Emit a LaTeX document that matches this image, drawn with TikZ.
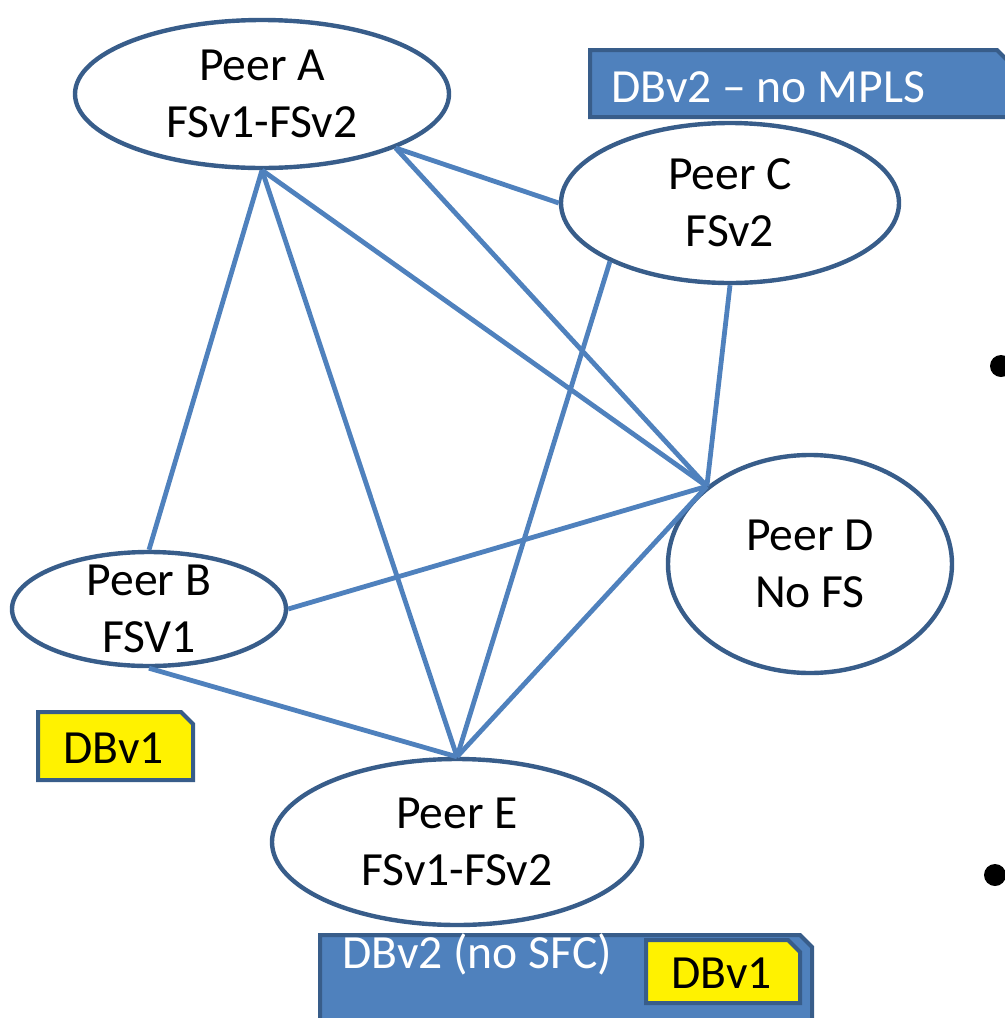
\documentclass[tikz,border=0pt]{standalone}
\usepackage{fontspec}
\setmainfont{Carlito}
\definecolor{peerline}{HTML}{385D8A}
\definecolor{linkblue}{HTML}{4F81BD}
\definecolor{dbblue}{HTML}{4F81BD}
\tikzset{
    peer/.style={draw=peerline, line width=2.2pt, ellipse, fill=white, inner xsep=0pt, inner ysep=-12pt, align=center, font=\fontsize{23.8}{28.5}\selectfont},
    link/.style={draw=linkblue, line width=2.4pt},
    dbtwo/.style={fill=dbblue, draw=peerline, line width=2pt},
    dbone/.style={fill=yellow, draw=peerline, line width=2pt},
    dblabel/.style={inner sep=0pt, font=\fontsize{23.8}{28}\selectfont},
    dot/.style={fill=black} }
\usetikzlibrary{shapes.geometric}

\begin{document}
\begin{tikzpicture}[x=0.5pt, y=-0.5pt]
			\useasboundingbox (0,0) rectangle (1005,1018);
			\clip (0,0) rectangle (1005,1018);
			\node[peer, minimum width=187pt, minimum height=74pt] (A) at (262,94) {Peer A\\FSv1-FSv2};
			\node[peer, minimum width=137pt, minimum height=57pt] (B) at (149,609) {Peer B\\FSV1};
			\node[peer, minimum width=169pt, minimum height=80pt] (C) at (730,203) {Peer C\\FSv2};
			\node[peer, minimum width=142pt, minimum height=109pt] (D) at (810,564) {Peer D\\No FS};
			\node[peer, minimum width=185pt, minimum height=83pt] (E) at (457,842) {Peer E\\FSv1-FSv2};
			% ----
			\draw[link] (A.south) -- (B.north);
			\draw[link] (A.south) -- (E.north);
			\draw[link] (A.south) -- (D.143);
			\draw[link] (A.-22) -- (D.143);
			\draw[link] (A.-22) -- (C.west);
			\draw[link] (C.206) -- (E.north);
			\draw[link] (C.south) -- (D.143);
			\draw[link] (B.east) -- (D.143);
			\draw[link] (B.south) -- (E.north);
			\draw[link] (D.143) -- (E.north);
			% ----
			\path[dbtwo] (590,50) -- (997,50) -- (1012,65) -- (1012,117) -- (590,117) -- cycle;
			\node[dblabel, text=white, anchor=base west] (mpls) at (611,102) {DBv2 – no MPLS};
			% ----
			\path[dbone] (38,712) -- (181,712) -- (193,724) -- (193,780) -- (38,780) -- cycle;
			\node[dblabel, anchor=base west] (dbB) at (63,763) {DBv1};
			% ----
			\path[dbtwo] (320,935) -- (800,935) -- (812,947) -- (812,1030) -- (320,1030) -- cycle;
			\node[dblabel, text=white, anchor=base west] (sfc) at (342,968) {DBv2 (no SFC)};
			\path[dbone] (646,940) -- (788,940) -- (800,952) -- (800,1003) -- (646,1003) -- cycle;
			\node[dblabel, anchor=base west] (dbE) at (671,988) {DBv1};
			% ----
			\fill[dot] (1001,366) circle[radius=11];
			\fill[dot] (995,875) circle[radius=11];
		\end{tikzpicture}
\end{document}
